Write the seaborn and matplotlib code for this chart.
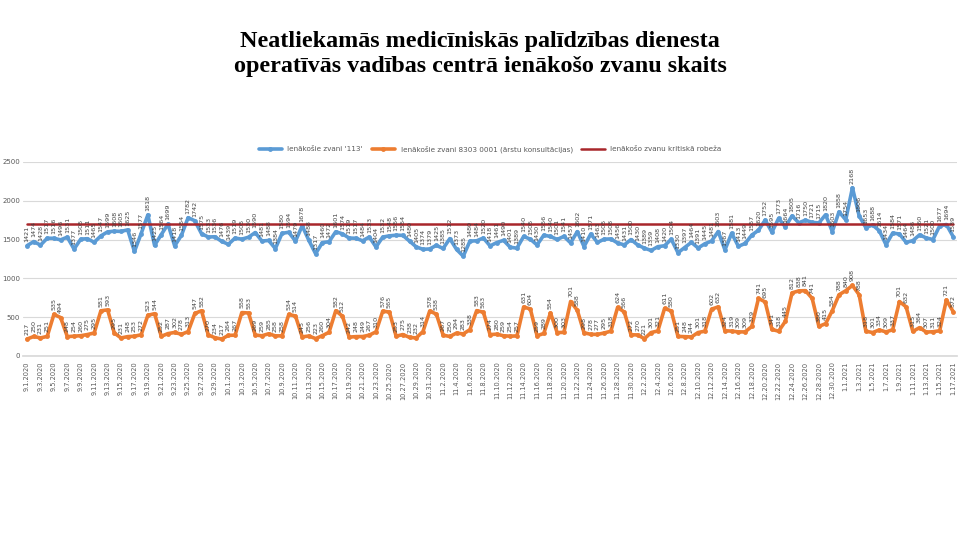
import numpy as np
import pandas as pd
import matplotlib
matplotlib.use("Agg")
import matplotlib.pyplot as plt
import seaborn as sns

dates = pd.date_range("2020-09-01", "2021-01-17", freq="D")
date_labels = [f"{d.month}.{d.day}.{d.year}" for d in dates]

calls_113 = [
    # Sep
    1421, 1474, 1428, 1517, 1516, 1496, 1531, 1377, 1505, 1511, 1465, 1547, 1599, 1608, 1605,
    1625, 1346, 1577, 1818, 1425, 1564, 1699, 1418, 1554, 1782, 1742, 1575, 1533, 1536, 1476,
    # Oct
    1439, 1519, 1505, 1530, 1590, 1481, 1488, 1384, 1580, 1594, 1479, 1678, 1488, 1317, 1460,
    1472, 1601, 1574, 1519, 1517, 1484, 1533, 1404, 1532, 1548, 1556, 1554, 1480, 1405, 1374, 1379,
    # Nov
    1425, 1385, 1512, 1373, 1285, 1480, 1484, 1520, 1418, 1461, 1490, 1401, 1389, 1540, 1505,
    1430, 1556, 1540, 1501, 1541, 1457, 1602, 1410, 1571, 1463, 1505, 1508, 1456, 1431, 1500,
    # Dec
    1430, 1389, 1359, 1408, 1420, 1504, 1330, 1397, 1464, 1391, 1445, 1481, 1603, 1367, 1581,
    1413, 1449, 1557, 1620, 1752, 1595, 1773, 1664, 1805, 1716, 1750, 1721, 1715, 1820, 1603, 1858,
    # Jan
    1754, 2168, 1806, 1653, 1688, 1614, 1434, 1584, 1571, 1464, 1486, 1560, 1521, 1500, 1677,
    1694, 1539,
]

calls_8303 = [
    # Sep
    217, 250, 231, 251, 535, 494, 248, 254, 260, 275, 295, 581, 593, 295, 231,
    248, 253, 272, 523, 544, 252, 287, 302, 278, 313, 547, 582, 270, 234, 217,
    # Oct
    264, 267, 558, 553, 269, 259, 285, 258, 258, 534, 514, 245, 256, 223, 260,
    304, 582, 512, 242, 248, 249, 267, 310, 576, 565, 253, 275, 238, 232, 314, 578,
    # Nov
    538, 267, 250, 294, 283, 338, 583, 563, 274, 280, 259, 254, 257, 631, 604,
    259, 289, 554, 300, 303, 701, 588, 298, 278, 277, 295, 318, 624, 566, 272,
    # Dec
    270, 221, 301, 321, 611, 580, 251, 248, 244, 301, 318, 602, 632, 324, 319,
    309, 309, 379, 741, 695, 341, 318, 445, 812, 838, 841, 741, 380, 415, 584, 788,
    # Jan
    840, 908, 788, 318, 301, 334, 309, 337, 701, 632, 315, 364, 307, 311, 324,
    721, 572,
]

critical_limit = 1700

series_names = [
    "Ienākošie zvani '113'",
    "Ienākošie zvani 8303 0001 (ārstu konsultācijas)",
    "Ienākošo zvanu kritiskā robeža",
]

n = len(dates)
df = pd.DataFrame({
    "idx": np.concatenate([np.arange(n)] * 3),
    "value": np.concatenate([calls_113, calls_8303, [critical_limit] * n]),
    "series": np.repeat(series_names, n),
})

sns.set_theme(style="white")
plt.rcParams["font.family"] = ["DejaVu Sans"]

fig = plt.figure(figsize=(9.6, 5.4), dpi=100)
ax = fig.add_axes([0.024, 0.341, 0.973, 0.359])

palette = {series_names[0]: "#5B9BD5", series_names[1]: "#ED7D31", series_names[2]: "#A8262B"}

sub1 = df[df.series == series_names[0]]
sub2 = df[df.series == series_names[1]]
sub3 = df[df.series == series_names[2]]
sns.lineplot(data=sub1, x="idx", y="value", color=palette[series_names[0]], lw=2.6,
             marker="o", markersize=3.5, markeredgewidth=0, ax=ax, label=series_names[0])
sns.lineplot(data=sub2, x="idx", y="value", color=palette[series_names[1]], lw=2.6,
             marker="o", markersize=3.5, markeredgewidth=0, ax=ax, label=series_names[1])
sns.lineplot(data=sub3, x="idx", y="value", color=palette[series_names[2]], lw=1.8,
             ax=ax, label=series_names[2])

for vals in (calls_113, calls_8303):
    for i, v in enumerate(vals):
        ax.annotate(str(v), (i, v), xytext=(0, 3), textcoords="offset points",
                    rotation=90, ha="center", va="bottom", fontsize=4.6, color="#404040")

ax.set_ylim(0, 2500)
ax.set_xlim(-0.6, n - 0.4)
ax.set_yticks([0, 500, 1000, 1500, 2000, 2500])
ax.set_yticklabels(["0", "500", "1000", "1500", "2000", "2500"], fontsize=5, color="#595959")
ax.set_xticks(np.arange(0, n, 2))
ax.set_xticklabels(date_labels[::2], rotation=90, fontsize=4.8, color="#595959")
ax.set_xticks(np.arange(-0.5, n, 2), minor=True)
ax.tick_params(axis="x", which="major", length=0, pad=4)
ax.tick_params(axis="x", which="minor", length=3, color="#BFBFBF", width=0.8)
ax.tick_params(axis="y", length=0, pad=2)
ax.grid(axis="y", color="#D9D9D9", lw=0.8)
ax.set_xlabel("")
ax.set_ylabel("")
for s in ["top", "right", "left"]:
    ax.spines[s].set_visible(False)
ax.spines["bottom"].set_color("#D9D9D9")

leg = ax.legend(loc="lower center", bbox_to_anchor=(0.5, 1.015), ncol=3, frameon=False,
                fontsize=5.2, handlelength=3.2, columnspacing=1.2)
for t in leg.get_texts():
    t.set_color("#595959")

fig.text(0.5, 0.9, "Neatliekamās medicīniskās palīdzības dienesta\noperatīvās vadības centrā ienākošo zvanu skaits",
         ha="center", va="center", fontsize=17.4, fontweight="bold",
         family=["Liberation Serif", "DejaVu Serif"], color="black", linespacing=1.2)

fig.savefig("out.png", dpi=100)
